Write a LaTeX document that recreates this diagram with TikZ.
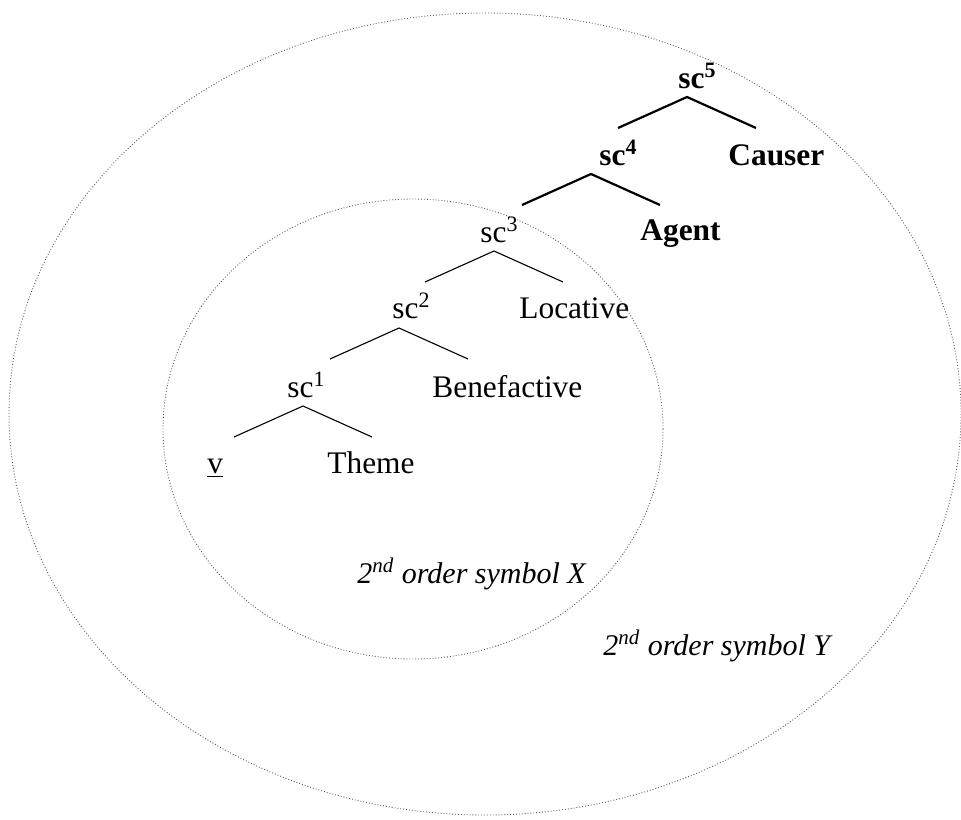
\documentclass[tikz,border=0pt]{standalone}
\usepackage{fontspec}
\setmainfont{Liberation Serif}
\usepackage{tikz}
\usetikzlibrary{calc}
\tikzset{
  treelabel/.style={inner sep=0pt, anchor=base west,
    font=\fontsize{15.7}{18}\selectfont},
  boldlabel/.style={treelabel,
    font=\fontsize{15.7}{18}\selectfont\bfseries},
  orderlabel/.style={treelabel,
    font=\fontsize{15}{18}\selectfont\itshape},
  branch/.style={line width=0.55pt},
  boldbranch/.style={line width=1.1pt},
  orderdomain/.style={densely dotted, line width=0.45pt, draw=black!65},
}

\begin{document}
\begin{tikzpicture}[x=0.5pt, y=-0.5pt, line cap=butt]
  \useasboundingbox (0,0) rectangle (961,819);

  % The two second-order domains.
  \draw[orderdomain] (485,414) ellipse [x radius=476, y radius=401];
  \draw[orderdomain] (413,429) ellipse [x radius=250, y radius=230];

  % Heads of the small clauses, then their arguments.
  \node[boldlabel] (sc5) at (678,88)  {sc\textsuperscript{5}};
  \node[boldlabel] (sc4) at (599,165) {sc\textsuperscript{4}};
  \node[boldlabel] (causer) at (728,165) {Causer};
  \node[boldlabel] (agent)  at (640,240) {Agent};
  \node[treelabel] (sc3) at (480,242) {sc\textsuperscript{3}};
  \node[treelabel] (sc2) at (392,318) {sc\textsuperscript{2}};
  \node[treelabel] (locative) at (519,318) {Locative};
  \node[treelabel] (sc1) at (287,397) {sc\textsuperscript{1}};
  \node[treelabel] (benefactive) at (432,397) {Benefactive};
  \node[treelabel] (verb)  at (207,473) {\underline{v}};
  \node[treelabel] (theme) at (327,473) {Theme};

  \node[orderlabel] (symbolx) at (357,583) {2\textsuperscript{nd} order symbol X};
  \node[orderlabel] (symboly) at (603,655) {2\textsuperscript{nd} order symbol Y};

  % Every branching node splits the same way.
  \foreach \lvl/\ax/\ay/\wt in {5/687/97/boldbranch, 4/591/174/boldbranch,
      3/494/251/branch, 2/399/328/branch, 1/303/406/branch} {
    \coordinate (split\lvl) at (\ax,\ay);
    \draw[\wt] ($(split\lvl)+(-69,31)$) -- (split\lvl) -- ++(69,31);
  }
\end{tikzpicture}
\end{document}
